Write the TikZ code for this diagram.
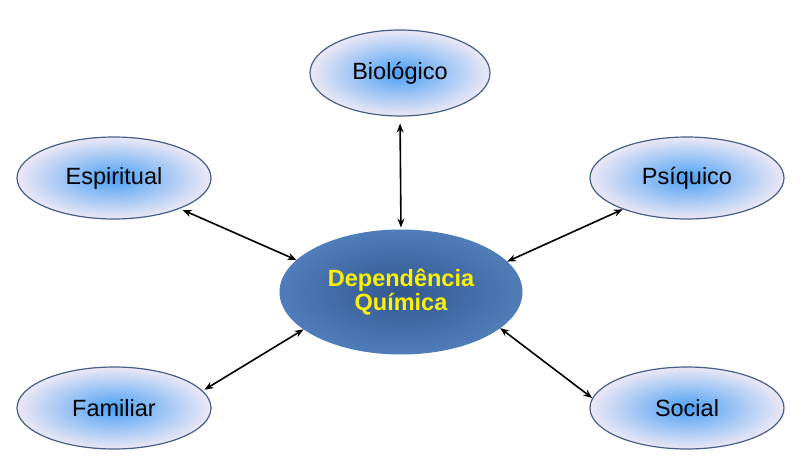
\documentclass[tikz,border=0pt]{standalone}
\usepackage{fontspec}
\setmainfont{Liberation Sans}
\usetikzlibrary{shapes.geometric,arrows.meta}
\definecolor{rimblue}{RGB}{70,95,135}
\definecolor{coreblue}{RGB}{75,160,245}
\definecolor{paleedge}{RGB}{236,232,245}
\definecolor{darkcore}{RGB}{50,88,145}
\definecolor{lightrim}{RGB}{80,125,185}

\tikzset{
  aspect/.style={ellipse, draw=rimblue, line width=1.2pt,
    minimum width=194pt, minimum height=82pt,
    inner color=coreblue, outer color=paleedge,
    font=\fontsize{23.5}{27}\selectfont},
  hub/.style={ellipse, draw=lightrim, line width=1pt,
    minimum width=242pt, minimum height=124pt,
    inner color=darkcore, outer color=lightrim,
    text=yellow, align=center,
    font=\fontsize{23.5}{27}\selectfont\bfseries},
  link/.style={{Stealth[length=9pt,width=7pt]}-{Stealth[length=9pt,width=7pt]},
    line width=1.6pt}
}

\begin{document}
\begin{tikzpicture}[x=1pt,y=-1pt]
    \useasboundingbox (0,0) rectangle (809,476);

    % central node
    \node[hub] (dq) at (401,292) {\raisebox{-3pt}{\shortstack{Dependência\\[-1pt]Química}}};

    % outer nodes
    \node[aspect, minimum width=180pt, minimum height=86pt] (bio) at (400,73) {Biológico};
    \node[aspect] (esp) at (114,178) {Espiritual};
    \node[aspect] (psi) at (687,178) {Psíquico};
    \node[aspect] (fam) at (114,408) {Familiar};
    \node[aspect] (soc) at (687,408) {Social};

    % arrows
    \draw[link, shorten <=7pt, shorten >=2pt] (bio.south) -- (dq.north);
    \draw[link, shorten <=3pt] (esp.-25) -- (dq.163);
    \draw[link] (psi.-154) -- (dq.16);
    \draw[link, shorten <=2pt] (fam.11) -- (dq.-159);
    \draw[link] (soc.174) -- (dq.-20);
\end{tikzpicture}
\end{document}
